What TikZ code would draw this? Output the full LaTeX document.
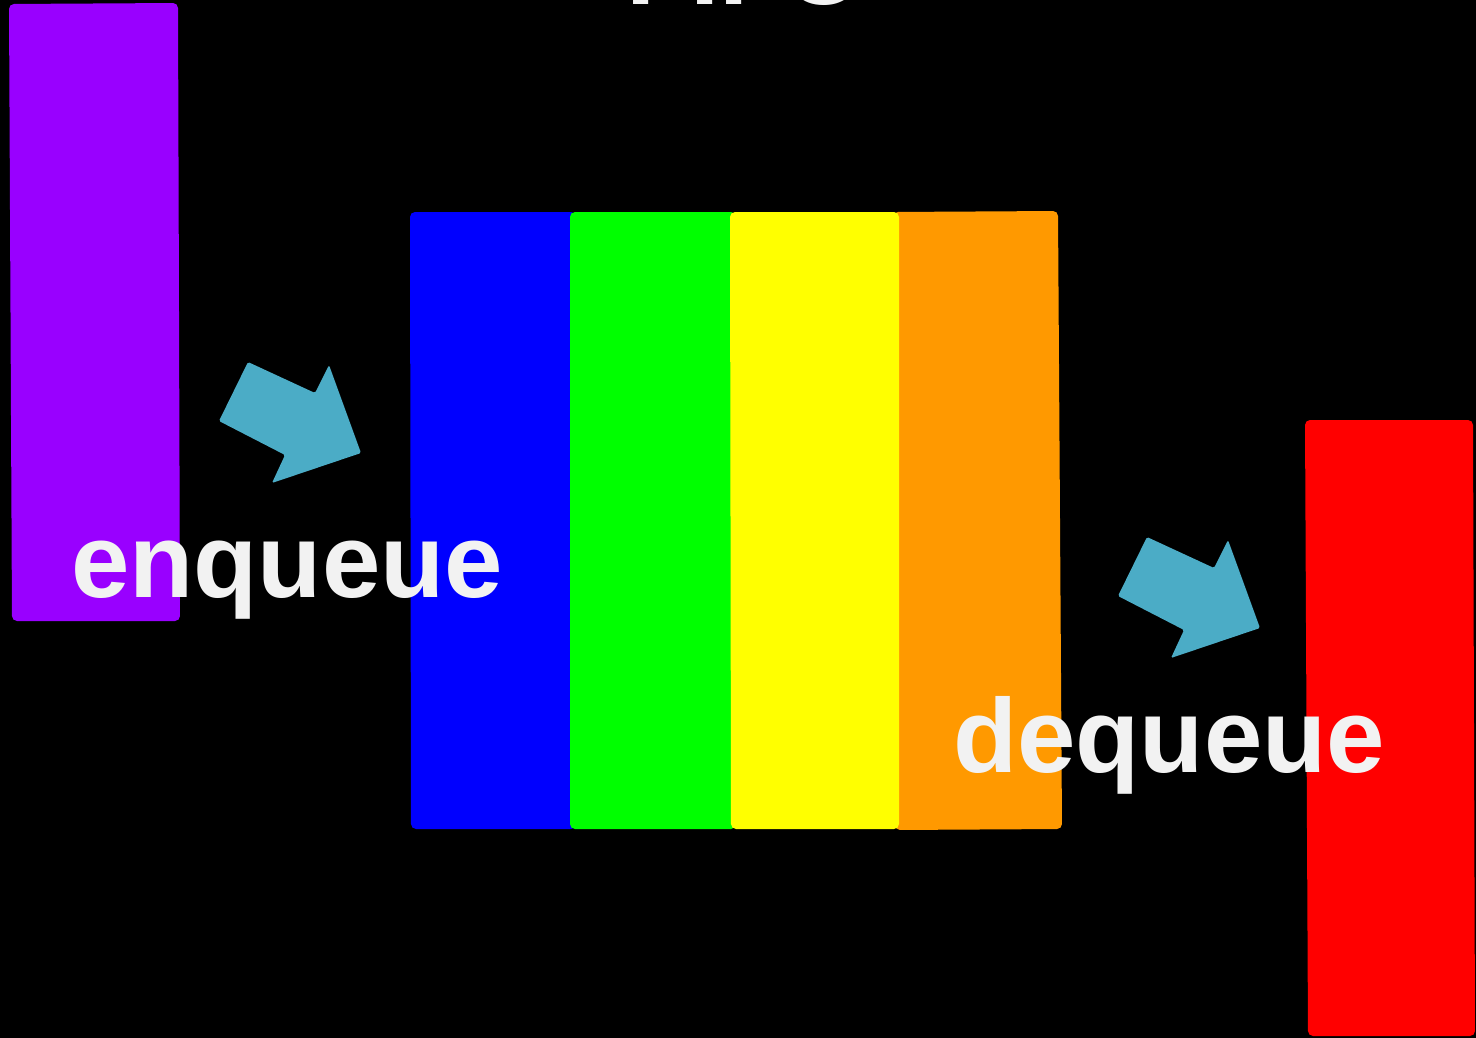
\documentclass[tikz,border=0pt]{standalone}
\usepackage{fontspec}
\setmainfont{Liberation Sans}
\definecolor{cpurple}{HTML}{9900FF}
\definecolor{cblue}{HTML}{0000FF}
\definecolor{cgreen}{HTML}{00FF00}
\definecolor{cyellow}{HTML}{FFFF00}
\definecolor{corange}{HTML}{FF9900}
\definecolor{cred}{HTML}{FF0000}
\definecolor{carrow}{HTML}{4BACC6}
\definecolor{ctext}{HTML}{F2F2F2}
\begin{document}
\begin{tikzpicture}[x=1pt,y=-1pt,
  bar/.style={rounded corners=5pt},
  lbl/.style={text=ctext, font=\bfseries\fontsize{105}{105}\selectfont, inner sep=0pt, anchor=base west},
  arr/.style={fill=carrow, rounded corners=1.5pt}]
\fill[black] (0,0) rectangle (1476,1038);
\useasboundingbox (0,0) rectangle (1476,1038);
% title (cut off at the top, as in the reference)
\node[lbl] (title) at (626,5) {FIFO};
% element being enqueued
\fill[cpurple,bar] (9,4) -- (178,3) -- (180,621) -- (12,621) -- cycle;
% queue
\fill[cblue,bar] (410,212) -- (576,212) -- (576,829) -- (411,829) -- cycle;
\fill[cgreen,bar] (570,212) -- (736,212) -- (736,829) -- (570,829) -- cycle;
\fill[corange,bar] (893,212) -- (1058,211) -- (1062,829) -- (895,830) -- cycle;
\fill[cyellow,bar] (730,212) -- (899,212) -- (899,829) -- (731,829) -- cycle;
% element being dequeued
\fill[cred,bar] (1305,420) -- (1473,420) -- (1475,1036) -- (1308,1036) -- cycle;
% arrows
\fill[arr] (248,362) -- (315,393) -- (329,365) -- (361,453) -- (272,483) -- (285,455) -- (219,421) -- cycle;
\begin{scope}[shift={(899,175)}]
\fill[arr] (248,362) -- (315,393) -- (329,365) -- (361,453) -- (272,483) -- (285,455) -- (219,421) -- cycle;
\end{scope}
% labels
\node[lbl] (enq) at (71,597) {enqueue};
\node[lbl] (deq) at (953,772) {dequeue};
\end{tikzpicture}
\end{document}
